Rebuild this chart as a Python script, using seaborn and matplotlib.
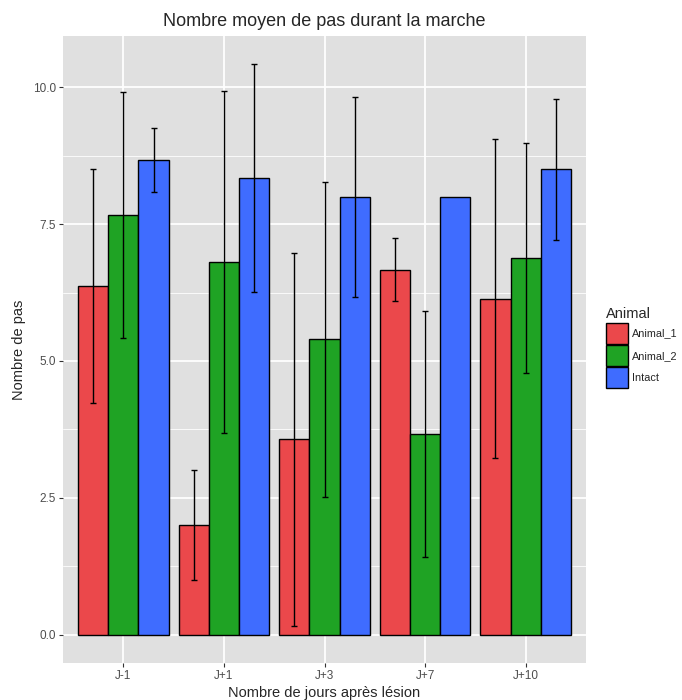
import numpy as np
import pandas as pd
import matplotlib.pyplot as plt
import seaborn as sns
from matplotlib.patches import Patch
from matplotlib.ticker import MultipleLocator, FormatStrFormatter

# données
jours = ['J-1', 'J+1', 'J+3', 'J+7', 'J+10']
animaux = ['Animal_1', 'Animal_2', 'Intact']

# nombre moyen de pas
moy_animal_1 = [6.37, 2.0, 3.57, 6.67, 6.14]
moy_animal_2 = [7.67, 6.81, 5.40, 3.67, 6.88]
moy_intact = [8.67, 8.34, 8.0, 8.0, 8.50]

# écart-type (NaN = pas de barre d'erreur)
sd_animal_1 = [2.14, 1.0, 3.41, 0.58, 2.92]
sd_animal_2 = [2.25, 3.12, 2.88, 2.25, 2.10]
sd_intact = [0.58, 2.08, 1.83, np.nan, 1.29]

couleurs = ['#EB484B', '#1FA324', '#3F6CFF']

df = pd.DataFrame({
    'Jour': jours * 3,
    'Animal': np.repeat(animaux, len(jours)),
    'pas': moy_animal_1 + moy_animal_2 + moy_intact,
    'sd': sd_animal_1 + sd_animal_2 + sd_intact,
})

sns.set_style('white')
plt.rcParams['font.family'] = ['Liberation Sans', 'DejaVu Sans']

fig, ax = plt.subplots(figsize=(6.82, 7), dpi=100)
fig.subplots_adjust(left=63 / 682, right=586 / 682, top=1 - 36 / 700, bottom=1 - 663 / 700)

sns.barplot(data=df, x='Jour', y='pas', hue='Animal', order=jours, hue_order=animaux,
            palette=couleurs, width=0.9, errorbar=None, saturation=1,
            edgecolor='black', linewidth=1, legend=False, ax=ax)

# barres d'erreur (moyenne +/- écart-type)
for cont, nom in zip(ax.containers, animaux):
    sub = df[df['Animal'] == nom].set_index('Jour').loc[jours]
    xs = np.array([b.get_x() + b.get_width() / 2 for b in cont])
    ys = np.array([b.get_height() for b in cont])
    ok = ~sub['sd'].isna().values
    ax.errorbar(xs[ok], ys[ok], yerr=sub['sd'].values[ok], fmt='none', ecolor='black',
                elinewidth=1, capsize=2.5, capthick=1, zorder=5)

ax.set_xlim(-0.6, 4.6)
ax.set_ylim(-0.52, 10.94)
ax.yaxis.set_major_locator(MultipleLocator(2.5))
ax.yaxis.set_minor_locator(MultipleLocator(1.25))
ax.yaxis.set_major_formatter(FormatStrFormatter('%.1f'))

ax.set_facecolor('#E0E0E0')
ax.set_axisbelow(True)
ax.grid(which='major', color='white', linewidth=1.3)
ax.grid(which='minor', axis='y', color='white', linewidth=0.6)
for s in ax.spines.values():
    s.set_visible(False)
ax.tick_params(which='major', length=3, width=0.8, color='#333333', labelcolor='#4D4D4D',
               labelsize=8.5, pad=2, bottom=True, left=True)
ax.tick_params(which='minor', length=0)

ax.set_title('Nombre moyen de pas durant la marche', fontsize=13, pad=7)
ax.set_xlabel('Nombre de jours après lésion', fontsize=10.5, labelpad=3)
ax.set_ylabel('Nombre de pas', fontsize=10.5, labelpad=5)

handles = [Patch(facecolor=c, edgecolor='black', linewidth=1) for c in couleurs]
fig.legend(handles, animaux, title='Animal', loc='upper left',
           bbox_to_anchor=(601 / 682, 1 - 302 / 700), frameon=False,
           handlelength=2.0, handleheight=2.6, labelspacing=0.12, handletextpad=0.35,
           borderpad=0, fontsize=7.8, title_fontsize=10.5, alignment='left')

plt.savefig('out.png', dpi=100)
